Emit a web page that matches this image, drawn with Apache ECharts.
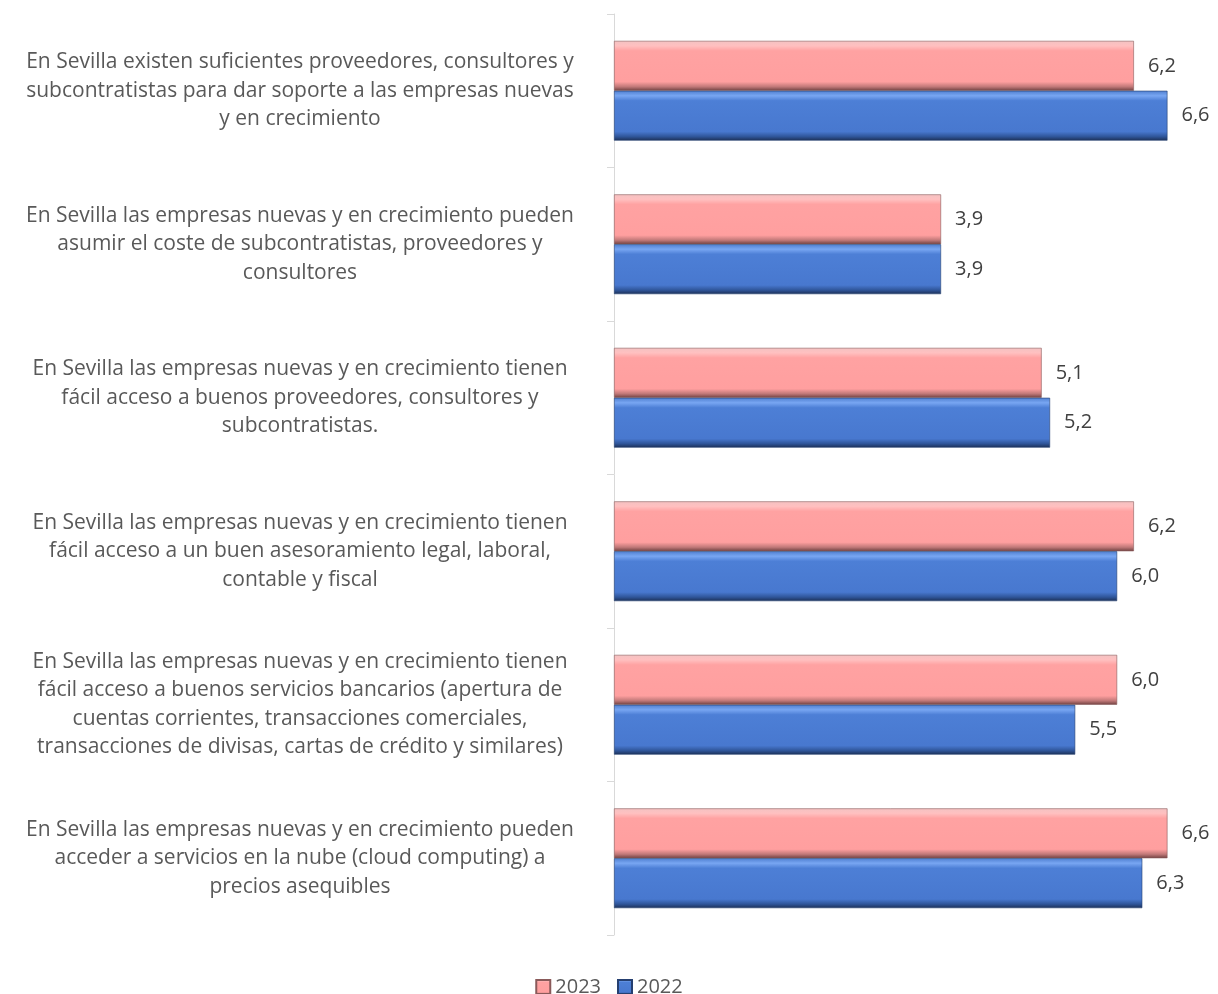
<!DOCTYPE html>
<html>
<head>
<meta charset="utf-8">
<script src="https://cdn.jsdelivr.net/npm/echarts@6/dist/echarts.min.js"></script>
<style>
  html, body { margin: 0; padding: 0; background: #fff; }
  #chart { width: 1218px; height: 994px; }
</style>
</head>
<body>
<div id="chart"></div>
<script>
// categories, top to bottom
const categories = [
    'En Sevilla existen suficientes proveedores, consultores y\nsubcontratistas para dar soporte a las empresas nuevas\ny en crecimiento',
    'En Sevilla las empresas nuevas y en crecimiento pueden\nasumir el coste de subcontratistas, proveedores y\nconsultores',
    'En Sevilla las empresas nuevas y en crecimiento tienen\nfácil acceso a buenos proveedores, consultores y\nsubcontratistas.',
    'En Sevilla las empresas nuevas y en crecimiento tienen\nfácil acceso a un buen asesoramiento legal, laboral,\ncontable y fiscal',
    'En Sevilla las empresas nuevas y en crecimiento tienen\nfácil acceso a buenos servicios bancarios (apertura de\ncuentas corrientes, transacciones comerciales,\ntransacciones de divisas, cartas de crédito y similares)',
    'En Sevilla las empresas nuevas y en crecimiento pueden\nacceder a servicios en la nube (cloud computing) a\nprecios asequibles'
];
const values2023 = [6.2, 3.9, 5.1, 6.2, 6.0, 6.6];
const values2022 = [6.6, 3.9, 5.2, 6.0, 5.5, 6.3];
const seriesNames = ['2023', '2022'];

const FONT = '"Open Sans", sans-serif';

// bevel look: light strip on top, darker strip at the bottom
const pinkFill = new echarts.graphic.LinearGradient(0, 0, 0, 1, [
    { offset: 0, color: '#f3c2c2' },
    { offset: 0.1, color: '#ffc0c0' },
    { offset: 0.2, color: '#ffa2a2' },
    { offset: 0.82, color: '#ff9f9f' },
    { offset: 0.92, color: '#c07878' },
    { offset: 1, color: '#6e4040' }
]);
const blueFill = new echarts.graphic.LinearGradient(0, 0, 0, 1, [
    { offset: 0, color: '#4f7fd0' },
    { offset: 0.1, color: '#78a6f2' },
    { offset: 0.2, color: '#4d7fd6' },
    { offset: 0.82, color: '#4878cf' },
    { offset: 0.92, color: '#2f5599' },
    { offset: 1, color: '#1c2f55' }
]);

const labelFmt = p => p.value.toFixed(1).replace('.', ',');

const chart = echarts.init(document.getElementById('chart'));
chart.setOption({
    animation: false,
    textStyle: { fontFamily: FONT },
    grid: { left: 614, right: 17, top: 14, bottom: 59 },
    legend: {
        data: seriesNames,
        top: 972,
        left: 'center',
        itemWidth: 14,
        itemHeight: 14,
        itemGap: 16,
        icon: 'rect',
        textStyle: { fontSize: 20, color: '#595959', fontFamily: FONT }
    },
    xAxis: {
        type: 'value',
        min: 0,
        max: 7,
        show: false
    },
    yAxis: {
        type: 'category',
        inverse: true,
        data: categories,
        axisLine: { show: true, lineStyle: { color: '#d9d9d9', width: 1 } },
        axisTick: { show: true, length: 7, lineStyle: { color: '#d9d9d9' } },
        axisLabel: {
            margin: 22,
            formatter: v => v.split('\n').map(l => '{a|' + l + '}').join('\n'),
            rich: {
                a: {
                    width: 584,
                    align: 'center',
                    fontSize: 21,
                    lineHeight: 28.5,
                    color: '#595959',
                    fontFamily: FONT
                }
            }
        }
    },
    series: [
        {
            name: seriesNames[0],
            type: 'bar',
            data: values2023,
            barGap: '0%',
            barCategoryGap: '35%',
            itemStyle: { color: pinkFill, borderColor: '#8a5a5a', borderWidth: 0.6 },
            label: {
                show: true, position: 'right', distance: 14,
                fontSize: 20, color: '#404040', fontFamily: FONT,
                formatter: labelFmt
            }
        },
        {
            name: seriesNames[1],
            type: 'bar',
            data: values2022,
            barGap: '0%',
            barCategoryGap: '35%',
            itemStyle: { color: blueFill, borderColor: '#253f70', borderWidth: 0.6 },
            label: {
                show: true, position: 'right', distance: 14,
                fontSize: 20, color: '#404040', fontFamily: FONT,
                formatter: labelFmt
            }
        }
    ]
});
</script>
</body>
</html>
